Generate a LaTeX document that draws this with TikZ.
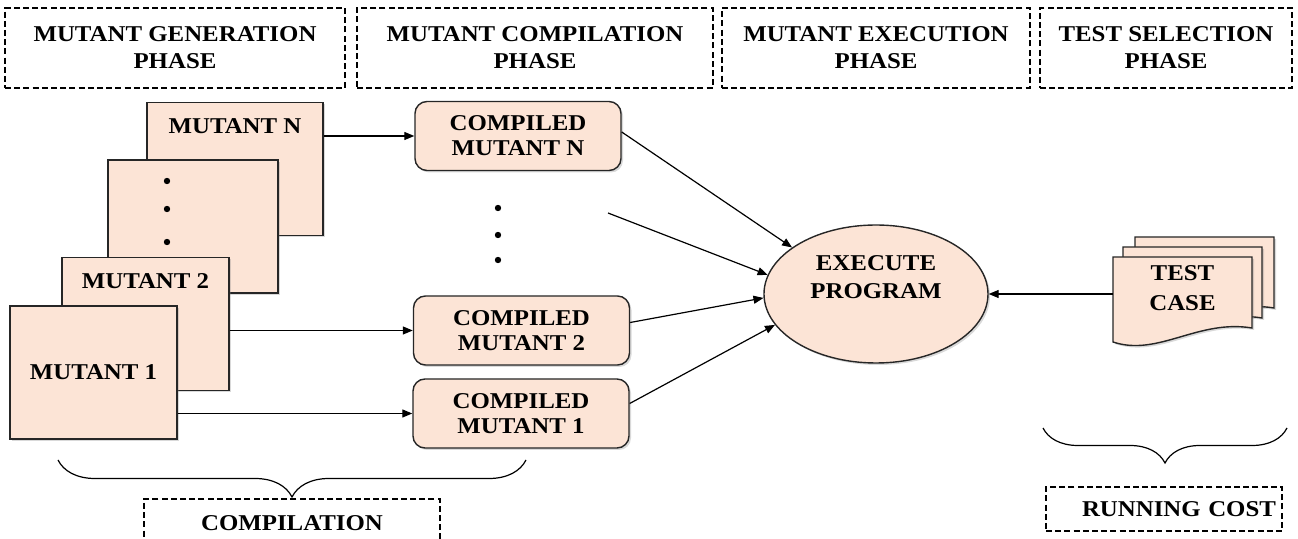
\documentclass[tikz,border=0pt]{standalone}
\usepackage{fontspec}
\setmainfont[FakeStretch=1.1]{Liberation Serif}
\usepackage{tikz}
\usepackage{xcolor}
\usetikzlibrary{arrows.meta,shapes.geometric,shadows,decorations.pathreplacing}
\definecolor{peach}{RGB}{252,228,214}

\begin{document}
\begin{tikzpicture}[
            x = 0.5pt, y = -0.5pt,
            every node/.style = {font = \fontsize{11.3}{13.5}\selectfont\bfseries, align = center},
            phase/.style = {draw, dash pattern = on 3pt off 1.6pt, line width = 0.55pt, minimum height = 40pt, inner sep = 0pt},
            mutant/.style = {draw = black!85, fill = peach, line width = 0.7pt, minimum height = 66.5pt, minimum width = 84pt,
                drop shadow = {shadow xshift = 1pt, shadow yshift = -1pt, opacity = 0.3}},
            compiled/.style = {mutant, rounded corners = 6pt, minimum width = 108pt, minimum height = 34.5pt},
            boxtitle/.style = {anchor = north, inner sep = 0pt, yshift = -8pt},
            arr/.style = {draw, line width = 0.6pt, -{Triangle[length = 5pt, width = 4pt]}},
            curly/.style = {draw, line width = 0.6pt, decorate, decoration = {brace, mirror, amplitude = #1}},
            testpage/.pic = {
                \path[draw = black!85, fill = peach, line width = 0.7pt,
                    drop shadow = {shadow xshift = 1pt, shadow yshift = -1pt, opacity = 0.3}]
                    (0,0) -- (139,0) -- (139,71) .. controls (85,62) and (45,100) .. (0,85) -- cycle;
            }
        ]
        \useasboundingbox (0,0) rectangle (1298,539);
        \clip (0,0) rectangle (1298,539);

        \node[phase, minimum width = 170pt] (genph) at (175,48) {MUTANT GENERATION\\PHASE};
        \node[phase, minimum width = 178pt] (compph) at (535,48) {MUTANT COMPILATION\\PHASE};
        \node[phase, minimum width = 154pt] (exeph) at (876,48) {MUTANT EXECUTION\\PHASE};
        \node[phase, minimum width = 126pt] (selph) at (1166,48) {TEST SELECTION\\PHASE};

        \node[mutant, minimum width = 88pt, label = {[boxtitle]north:MUTANT N}] (mN) at (235,169) {};
        \node[mutant, minimum width = 85pt] (mdots) at (193,226.5) {};
        \foreach \y in {181,209,242} \fill (167,\y) circle (1.6pt);
        \node[mutant, minimum width = 83.5pt, label = {[boxtitle]north:MUTANT 2}] (m2) at (145.5,324) {};
        \node[mutant, minimum width = 83.5pt] (m1) at (93.5,372.5) {MUTANT 1};

        \node[compiled, minimum width = 103pt] (cN) at (518,136) {COMPILED\\[-1pt]MUTANT N};
        \foreach \y in {208,235,260} \fill (498,\y) circle (1.6pt);
        \node[compiled] (c2) at (521.5,330.5) {COMPILED\\[-1pt]MUTANT 2};
        \node[compiled] (c1) at (521,413.5) {COMPILED\\[-1pt]MUTANT 1};

        \node[mutant, ellipse, minimum width = 112pt, minimum height = 69pt,
            label = {[align = center, yshift = 8.5pt]center:EXECUTE\\[0.5pt]PROGRAM}] (exe) at (876,294) {};

        \pic at (1135,237) {testpage};
        \pic at (1123,247) {testpage};
        \pic at (1113,257) {testpage};
        \node[minimum width = 69.5pt, minimum height = 45pt,
            label = {[align = center, yshift = 7pt]center:TEST\\[1.5pt]CASE}] (tc) at (1182.5,302) {};

        \draw[arr] (mN.east |- cN.west) -- (cN.west);
        \draw[arr] (m2.east |- c2.west) -- (c2.west);
        \draw[arr] (m1.east |- c1.west) -- (c1.west);

        \coordinate (dotsout) at (608,213);
        \draw[arr] ([yshift = 2pt]cN.east) -- (exe.151);
        \draw[arr] (dotsout) -- (exe.170);
        \draw[arr] ([yshift = 4pt]c2.east) -- (exe.182);
        \draw[arr] ([yshift = 5pt]c1.east) -- (exe.197);
        \draw[arr] (tc.west |- exe.east) -- (exe.east);

        \coordinate (compL) at (58,460);
        \coordinate (compR) at (526,460);
        \draw[curly = 18.5pt] (compL) -- (compR);
        \node[phase, minimum width = 148pt, minimum height = 24pt] (compcost) at (292,523) {COMPILATION};

        \coordinate (runL) at (1043,428);
        \coordinate (runR) at (1287,428);
        \draw[curly = 17.5pt] (runL) -- (runR);
        \node[phase, minimum width = 118pt, minimum height = 22pt, text width = 112pt, align = right] (runcost) at (1164,509) {RUNNING COST};
    \end{tikzpicture}
\end{document}
